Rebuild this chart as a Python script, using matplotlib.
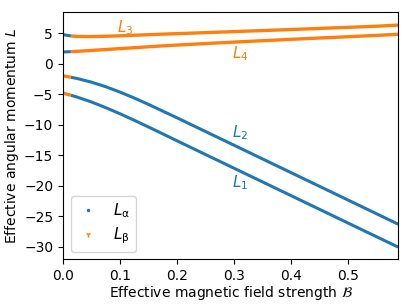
import matplotlib
matplotlib.use("Agg")
import matplotlib.pyplot as plt
from matplotlib.lines import Line2D

# Effective magnetic field strength (sample positions)
B = [0.0, 0.014, 0.025, 0.05, 0.075, 0.1, 0.125, 0.15, 0.175, 0.2,
     0.25, 0.3, 0.35, 0.4, 0.45, 0.5, 0.55, 0.5875]

# Curve values
L1 = [-4.85, -5.2, -5.5, -6.3, -7.23, -8.23, -9.3, -10.4, -11.53, -12.67,
      -14.92, -17.17, -19.42, -21.67, -23.92, -26.17, -28.42, -30.1]
L2 = [-2.0, -2.25, -2.45, -3.05, -3.8, -4.68, -5.65, -6.7, -7.8, -8.9,
      -11.15, -13.4, -15.65, -17.9, -20.15, -22.4, -24.65, -26.35]
L3 = [4.75, 4.52, 4.45, 4.42, 4.47, 4.55, 4.64, 4.73, 4.82, 4.9,
      5.07, 5.24, 5.41, 5.58, 5.76, 5.94, 6.12, 6.3]
L4 = [1.9, 1.95, 2.0, 2.15, 2.3, 2.45, 2.6, 2.75, 2.9, 3.03,
      3.28, 3.52, 3.75, 3.97, 4.19, 4.4, 4.62, 4.8]

switch_index = 1  # curves change branch at B[1]

labels = ["$L_1$", "$L_2$", "$L_3$", "$L_4$"]
label_pos_x = [0.31, 0.31, 0.11, 0.31]
label_pos_y = [-19.6, -11.4, 5.9, 1.6]

blue = "#1f77b4"
orange = "#ff7f0e"

fig = plt.figure(figsize=(4.11, 3.08), dpi=100)
ax = fig.add_axes([0.153, 0.158, 0.816, 0.804])

k = switch_index
# L_alpha branch (blue)
for ys in (L1, L2):
    ax.plot(B[k:], ys[k:], color=blue, lw=2.2, solid_capstyle="butt", solid_joinstyle="round")
for ys in (L3, L4):
    ax.plot(B[:k + 1], ys[:k + 1], color=blue, lw=2.2, solid_capstyle="butt")
# L_beta branch (orange)
for ys in (L1, L2):
    ax.plot(B[:k + 1], ys[:k + 1], color=orange, lw=2.4, solid_capstyle="butt")
for ys in (L3, L4):
    ax.plot(B[k:], ys[k:], color=orange, lw=2.4, solid_capstyle="butt", solid_joinstyle="round")

colors = [blue, blue, orange, orange]
for lab, lx, ly, c in zip(labels, label_pos_x, label_pos_y, colors):
    ax.text(lx, ly, lab, color=c, fontsize=11, ha="center", va="center")

ax.set_xlim(0, 0.5875)
ax.set_ylim(-32.1, 8.5)
ax.set_xticks([0.0, 0.1, 0.2, 0.3, 0.4, 0.5])
ax.set_yticks([5, 0, -5, -10, -15, -20, -25, -30])
ax.tick_params(labelsize=10)
ax.set_xlabel(r"Effective magnetic field strength $\mathcal{B}$", fontsize=10, labelpad=1)
ax.set_ylabel("Effective angular momentum $L$", fontsize=10, labelpad=2)

handles = [
    Line2D([], [], color=blue, marker=".", ls="none", markersize=3),
    Line2D([], [], color=orange, marker="1", ls="none", markersize=4),
]
ax.legend(handles, [r"$L_\mathrm{\alpha}$", r"$L_\mathrm{\beta}$"], loc="lower left",
          fontsize=11, handlelength=1.5, borderpad=0.4, labelspacing=0.3,
          handletextpad=0.9)

fig.savefig("out.png", dpi=100)
